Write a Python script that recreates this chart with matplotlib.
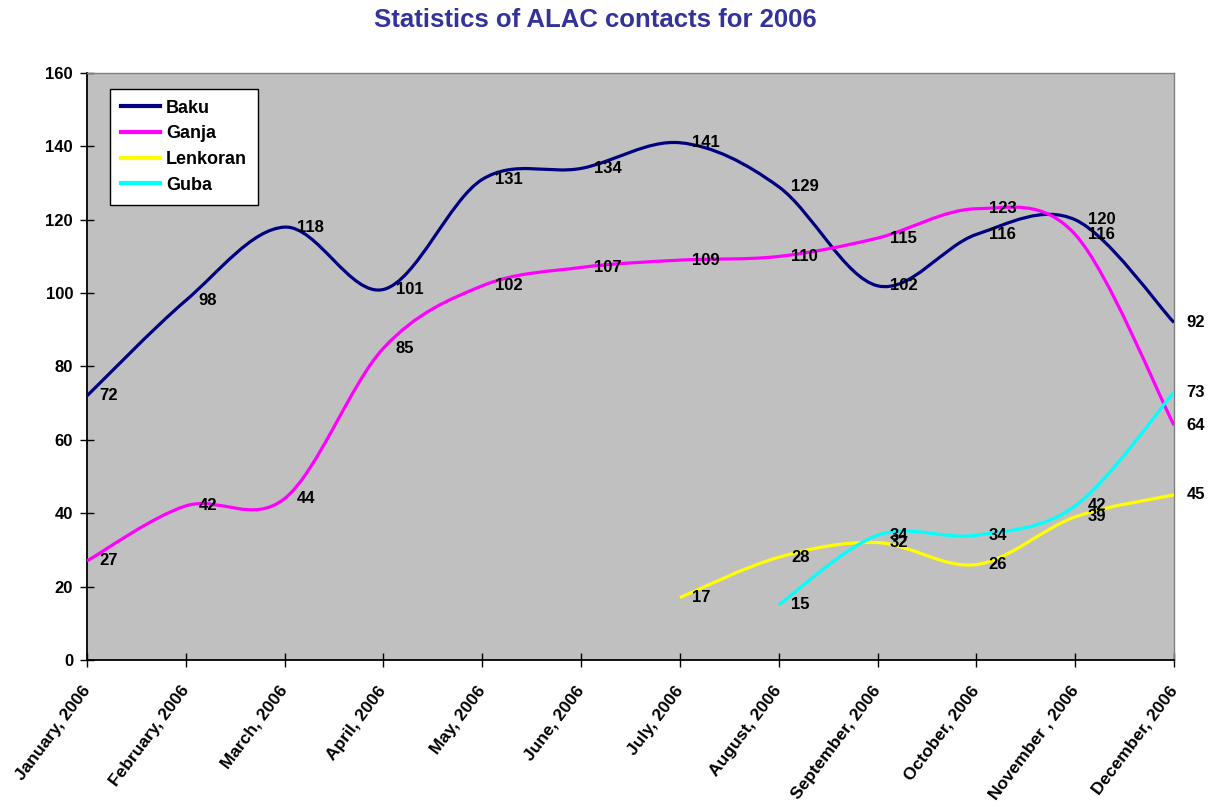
import numpy as np
import matplotlib.pyplot as plt
from matplotlib.path import Path
from matplotlib.patches import PathPatch
from matplotlib.lines import Line2D

plt.rcParams['font.family'] = ['Liberation Sans', 'DejaVu Sans']

months = ["January, 2006", "February, 2006", "March, 2006", "April, 2006",
          "May, 2006", "June, 2006", "July, 2006", "August, 2006",
          "September, 2006", "October, 2006", "November , 2006", "December, 2006"]

baku = [72, 98, 118, 101, 131, 134, 141, 129, 102, 116, 120, 92]
ganja = [27, 42, 44, 85, 102, 107, 109, 110, 115, 123, 116, 64]
lenkoran = [None] * 6 + [17, 28, 32, 26, 39, 45]
guba = [None] * 7 + [15, 34, 34, 42, 73]

series = [("Baku", baku, "#000080"),
          ("Ganja", ganja, "#FF00FF"),
          ("Lenkoran", lenkoran, "#FFFF00"),
          ("Guba", guba, "#00FFFF")]


def smooth_path(xs, ys):
    # excel-like smoothed line: bezier segments through every point
    pts = np.column_stack([xs, ys]).astype(float)
    n = len(pts)
    verts = [pts[0]]
    codes = [Path.MOVETO]
    for i in range(n - 1):
        p0 = pts[i - 1] if i > 0 else pts[i]
        p1 = pts[i]
        p2 = pts[i + 1]
        p3 = pts[i + 2] if i + 2 < n else pts[i + 1]
        verts += [p1 + (p2 - p0) / 6, p2 - (p3 - p1) / 6, p2]
        codes += [Path.CURVE4] * 3
    return Path(verts, codes)


fig = plt.figure(figsize=(12.22, 8.07), dpi=100)
ax = fig.add_axes([0.0712, 0.1822, 0.8895, 0.7273])
ax.set_facecolor("#C0C0C0")

handles = []
for name, vals, color in series:
    xs = [i for i, v in enumerate(vals) if v is not None]
    ys = [v for v in vals if v is not None]
    ax.add_patch(PathPatch(smooth_path(xs, ys), facecolor="none", edgecolor=color,
                           lw=2.3, capstyle="butt", joinstyle="round", zorder=3))
    for x, y in zip(xs, ys):
        ax.annotate(str(y), (x, y), xytext=(9, 0), textcoords="offset points",
                    ha="left", va="center", fontsize=12, fontweight="bold", zorder=4)
    handles.append(Line2D([], [], color=color, lw=3, label=name))

ax.set_xlim(0, len(months) - 1)
ax.set_ylim(0, 160)
ax.set_yticks(range(0, 161, 20))
ax.set_xticks(range(len(months)))
ax.set_xticklabels(months, rotation=53, ha="right", va="center", rotation_mode="anchor",
                   fontsize=12.5, fontweight="bold")
for lab in ax.get_yticklabels():
    lab.set_fontsize(12)
    lab.set_fontweight("bold")
ax.tick_params(direction="inout", length=10, width=1)
ax.tick_params(axis="y", pad=5)
ax.tick_params(axis="x", pad=15)

for s in ["left", "bottom"]:
    ax.spines[s].set_color("black")
    ax.spines[s].set_linewidth(1.3)
for s in ["top", "right"]:
    ax.spines[s].set_color("#808080")
    ax.spines[s].set_linewidth(1.0)

leg = ax.legend(handles=handles, loc="upper left", bbox_to_anchor=(0.021, 0.973),
                prop={"weight": "bold", "size": 13}, frameon=True, fancybox=False,
                edgecolor="black", facecolor="white", framealpha=1,
                handlelength=2.2, handletextpad=0.3, labelspacing=0.48, borderpad=0.6,
                borderaxespad=0)
leg.get_frame().set_linewidth(1.0)

fig.text(0.487, 0.975, "Statistics of ALAC contacts for 2006", ha="center", va="center",
         fontsize=18.5, fontweight="bold", color="#333399")

fig.savefig("out.png", dpi=100)
